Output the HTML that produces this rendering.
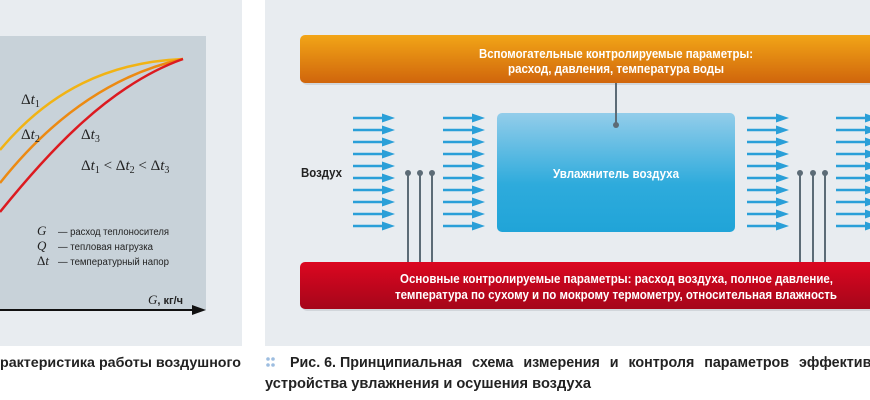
<!DOCTYPE html>
<html><head><meta charset="utf-8"><style>
html,body{margin:0;padding:0;background:#fff;}
svg{display:block;}
.c{font-family:"Liberation Sans",sans-serif;font-weight:bold;}
.s{font-family:"Liberation Serif",serif;}
</style></head><body>
<svg width="870" height="400" viewBox="0 0 870 400" xmlns="http://www.w3.org/2000/svg">
<defs>
<linearGradient id="og" x1="0" y1="0" x2="0" y2="1"><stop offset="0" stop-color="#f2a517"/><stop offset="1" stop-color="#d0650c"/></linearGradient>
<linearGradient id="rg" x1="0" y1="0" x2="0" y2="1"><stop offset="0" stop-color="#dc0720"/><stop offset="1" stop-color="#a5061a"/></linearGradient>
<linearGradient id="bg" x1="0" y1="0" x2="0" y2="1"><stop offset="0" stop-color="#93cdea"/><stop offset="0.6" stop-color="#2eabdc"/><stop offset="1" stop-color="#20a4d8"/></linearGradient>
<g id="ar"><line x1="0" y1="0" x2="34" y2="0" stroke="#2a9fd8" stroke-width="2.6"/><path d="M29,-4.5 L42,0 L29,4.5 Z" fill="#2a9fd8"/></g>
<g id="col">
<use href="#ar" y="118"/><use href="#ar" y="130"/><use href="#ar" y="142"/><use href="#ar" y="154"/><use href="#ar" y="166"/><use href="#ar" y="178"/><use href="#ar" y="190"/><use href="#ar" y="202"/><use href="#ar" y="214"/><use href="#ar" y="226"/>
</g>
</defs>
<rect x="0" y="0" width="242" height="346" fill="#e8ecf0"/>
<rect x="0" y="36" width="206" height="274" fill="#c8d2d9"/>
<path d="M0,150 C50,90 110,62 183,59" fill="none" stroke="#f1b314" stroke-width="2.5"/>
<path d="M0,183 C50,120 110,75 183,59" fill="none" stroke="#ec8a12" stroke-width="2.5"/>
<path d="M0,212 C50,150 110,85 183,59" fill="none" stroke="#dc1a20" stroke-width="2.5"/>
<g class="s" font-size="15" fill="#222">
<text x="21" y="104">Δ<tspan font-style="italic">t</tspan><tspan font-size="10" dy="3">1</tspan></text>
<text x="21" y="139">Δ<tspan font-style="italic">t</tspan><tspan font-size="10" dy="3">2</tspan></text>
<text x="81" y="139">Δ<tspan font-style="italic">t</tspan><tspan font-size="10" dy="3">3</tspan></text>
<text x="81" y="170">Δ<tspan font-style="italic">t</tspan><tspan font-size="10" dy="3">1</tspan><tspan dy="-3"> &lt; Δ</tspan><tspan font-style="italic">t</tspan><tspan font-size="10" dy="3">2</tspan><tspan dy="-3"> &lt; Δ</tspan><tspan font-style="italic">t</tspan><tspan font-size="10" dy="3">3</tspan></text>
<text x="37" y="235" font-size="13" font-style="italic">G</text>
<text x="37" y="250" font-size="13" font-style="italic">Q</text>
<text x="37" y="265" font-size="13">Δ<tspan font-style="italic">t</tspan></text>
<text x="148" y="304" font-size="13" font-style="italic">G<tspan font-style="normal" font-family="Liberation Sans" font-weight="bold" font-size="11">, кг/ч</tspan></text>
</g>
<g font-family="Liberation Sans" font-size="10" fill="#222">
<text x="58" y="235" textLength="111" lengthAdjust="spacingAndGlyphs">— расход теплоносителя</text>
<text x="58" y="250" textLength="95" lengthAdjust="spacingAndGlyphs">— тепловая нагрузка</text>
<text x="58" y="265" textLength="111" lengthAdjust="spacingAndGlyphs">— температурный напор</text>
</g>
<line x1="0" y1="310" x2="198" y2="310" stroke="#111" stroke-width="2"/>
<path d="M192,305 L206,310 L192,315 Z" fill="#111"/>
<text x="0" y="367" class="c" font-size="14" fill="#222" textLength="241" lengthAdjust="spacingAndGlyphs">рактеристика работы воздушного</text>

<rect x="265" y="0" width="605" height="346" fill="#e8ecf0"/>
<rect x="302" y="37" width="572" height="48" rx="5" fill="#b9c0c6" opacity="0.5"/>
<rect x="300" y="35" width="580" height="48" rx="5" fill="url(#og)"/>
<rect x="302" y="264" width="572" height="47" rx="5" fill="#b9c0c6" opacity="0.5"/>
<rect x="300" y="262" width="580" height="47" rx="5" fill="url(#rg)"/>
<rect x="497" y="113" width="238" height="119" rx="5" fill="url(#bg)"/>
<line x1="616" y1="83" x2="616" y2="125" stroke="#5c6b76" stroke-width="2"/>
<circle cx="616" cy="125" r="3" fill="#5c6b76"/>
<g stroke="#5c6b76" stroke-width="2">
<line x1="408" y1="173" x2="408" y2="262"/><line x1="420" y1="173" x2="420" y2="262"/><line x1="432" y1="173" x2="432" y2="262"/>
<line x1="800" y1="173" x2="800" y2="262"/><line x1="813" y1="173" x2="813" y2="262"/><line x1="825" y1="173" x2="825" y2="262"/>
</g>
<g fill="#5c6b76"><circle cx="408" cy="173" r="3"/><circle cx="420" cy="173" r="3"/><circle cx="432" cy="173" r="3"/><circle cx="800" cy="173" r="3"/><circle cx="813" cy="173" r="3"/><circle cx="825" cy="173" r="3"/></g>
<use href="#col" x="353"/><use href="#col" x="443"/><use href="#col" x="747"/><use href="#col" x="836"/>
<g class="c" fill="#fff" font-size="12.5">
<text x="479" y="58" textLength="274" lengthAdjust="spacingAndGlyphs">Вспомогательные контролируемые параметры:</text>
<text x="508" y="73" textLength="216" lengthAdjust="spacingAndGlyphs">расход, давления, температура воды</text>
<text x="553" y="178" textLength="126" lengthAdjust="spacingAndGlyphs">Увлажнитель воздуха</text>
<text x="400" y="283" textLength="433" lengthAdjust="spacingAndGlyphs">Основные контролируемые параметры: расход воздуха, полное давление,</text>
<text x="395" y="299" textLength="442" lengthAdjust="spacingAndGlyphs">температура по сухому и по мокрому термометру, относительная влажность</text>
</g>
<text x="301" y="177" class="c" font-size="12.5" fill="#222" textLength="41" lengthAdjust="spacingAndGlyphs">Воздух</text>
<g fill="#9dbde0"><circle cx="268" cy="359" r="1.8"/><circle cx="273" cy="359" r="1.8"/><circle cx="268" cy="365" r="1.8"/><circle cx="273" cy="365" r="1.8"/></g>
<text x="290" y="367" class="c" font-size="15" fill="#222" textLength="46" lengthAdjust="spacingAndGlyphs">Рис. 6.</text>
<text x="340" y="367" class="c" font-size="14.5" fill="#222" textLength="540" lengthAdjust="spacingAndGlyphs" word-spacing="6">Принципиальная схема измерения и контроля параметров эффективн</text>
<text x="265" y="388" class="c" font-size="14.5" fill="#222" textLength="326" lengthAdjust="spacingAndGlyphs">устройства увлажнения и осушения воздуха</text>
</svg>
</body></html>
